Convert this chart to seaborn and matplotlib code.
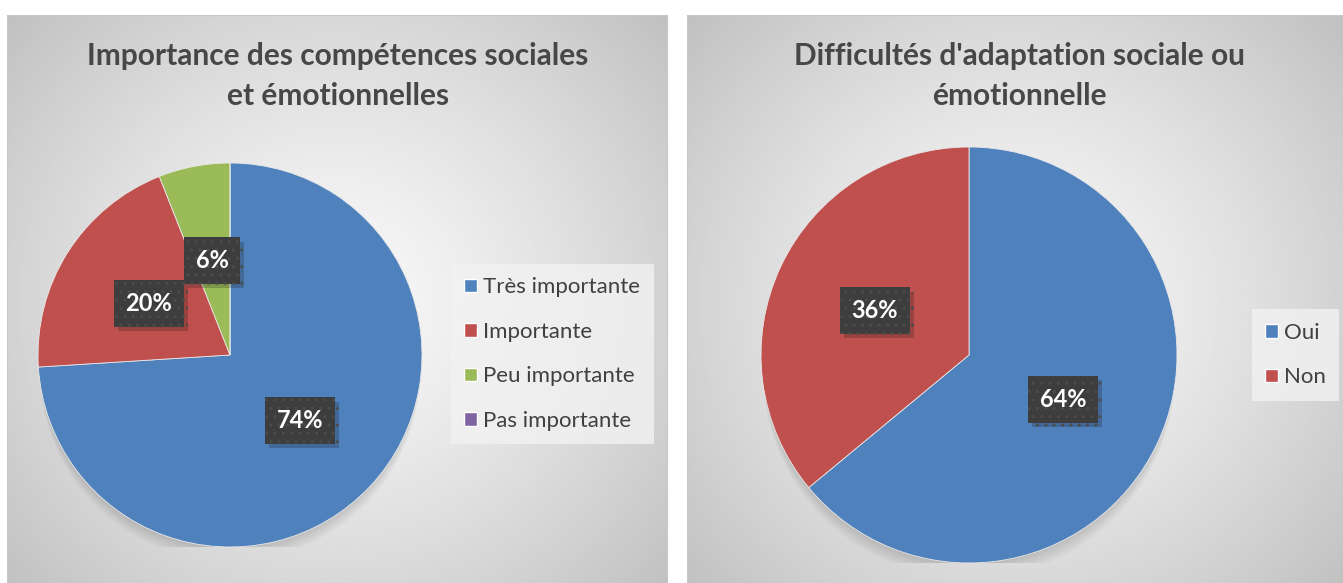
import numpy as np
import matplotlib
matplotlib.use("Agg")
import matplotlib.pyplot as plt
import matplotlib.patheffects as pe
from matplotlib.patches import Patch
import seaborn as sns

# data
left_title = "Importance des compétences sociales\net émotionnelles"
left_labels = ["Très importante", "Importante", "Peu importante", "Pas importante"]
left_values = [74, 20, 6, 0]

right_title = "Difficultés d'adaptation sociale ou\némotionnelle"
right_labels = ["Oui", "Non"]
right_values = [64, 36]

colors = sns.color_palette(["#4F81BD", "#C0504D", "#9BBB59", "#8064A2"])

sns.set_theme(style="white")
plt.rcParams["font.family"] = ["Lato", "DejaVu Sans"]

W, H = 1343, 583
fig = plt.figure(figsize=(W / 100, H / 100), dpi=100)
fig.patch.set_facecolor("white")


def px(x0, y0, x1, y1):
    # pixel box (top-left origin) -> figure fraction rect
    return [x0 / W, 1 - y1 / H, (x1 - x0) / W, (y1 - y0) / H]


def background(rect):
    ax = fig.add_axes(rect)
    ny, nx = 200, 300
    yy, xx = np.mgrid[-1:1:ny * 1j, -1:1:nx * 1j]
    r = np.sqrt(xx ** 2 + (yy * 0.9) ** 2) / np.sqrt(1 + 0.81)
    img = 0.975 - 0.22 * r ** 1.3
    ax.imshow(img, cmap="gray", vmin=0, vmax=1, aspect="auto", interpolation="bilinear")
    ax.set_xticks([])
    ax.set_yticks([])
    for s in ax.spines.values():
        s.set_color("#c8c8c8")
        s.set_linewidth(0.8)
    return ax


def draw_pie(rect, values):
    ax = fig.add_axes(rect)
    ax.set_facecolor("none")
    # soft shadow under the pie
    for k in range(12):
        ax.add_patch(plt.Circle((0, -0.01 - 0.007 * k), 0.99,
                                color="black", alpha=0.012, zorder=0, lw=0))

    def fmt(p):
        return f"{p:.0f}%" if p > 0.5 else ""

    wedges, texts, autotexts = ax.pie(
        values, colors=colors[:len(values)], startangle=90, counterclock=False,
        autopct=fmt, pctdistance=0.5, radius=1,
        wedgeprops=dict(linewidth=0.6, edgecolor="#e8e8e8"),
        textprops=dict(color="white", fontsize=17, fontweight="bold"))
    for w in wedges:
        w.set_zorder(2)
    for t in autotexts:
        if t.get_text():
            t.set_zorder(5)
            t.set_bbox(dict(boxstyle="square,pad=0.5", facecolor="#3d3d3d",
                            edgecolor="#4b4b4b", hatch="..", linewidth=0))
            t.get_bbox_patch().set_path_effects(
                [pe.SimplePatchShadow(offset=(3, -3), alpha=0.22), pe.Normal()])
    ax.set_xlim(-1, 1)
    ax.set_ylim(-1, 1)
    ax.axis("off")
    return ax


# panels
background(px(7, 15, 667, 590))
background(px(687, 15, 1343, 590))

fig.text(338 / W, 1 - 76 / H, left_title, ha="center", va="center",
         fontsize=21.5, fontweight="bold", color="#474747", linespacing=1.55)
fig.text(1019 / W, 1 - 76 / H, right_title, ha="center", va="center",
         fontsize=21.5, fontweight="bold", color="#474747", linespacing=1.55)

draw_pie(px(38, 163, 422, 547), left_values)
draw_pie(px(761, 147, 1177, 563), right_values)


def add_legend(labels, x, y):
    handles = [Patch(facecolor=colors[i], label=l) for i, l in enumerate(labels)]
    leg = fig.legend(handles=handles, loc="center left",
                     bbox_to_anchor=(x / W, 1 - y / H), fontsize=16,
                     frameon=True, fancybox=False, labelspacing=1.1,
                     handlelength=0.55, handleheight=0.55, handletextpad=0.3,
                     borderpad=0.6, borderaxespad=0)
    leg.get_frame().set_facecolor("#f2f2f2")
    leg.get_frame().set_alpha(0.8)
    leg.get_frame().set_linewidth(0)
    for t in leg.get_texts():
        t.set_color("#404040")
    return leg


add_legend(left_labels, 451, 354)
add_legend(right_labels, 1252, 355)

fig.savefig("out.png", dpi=100)
